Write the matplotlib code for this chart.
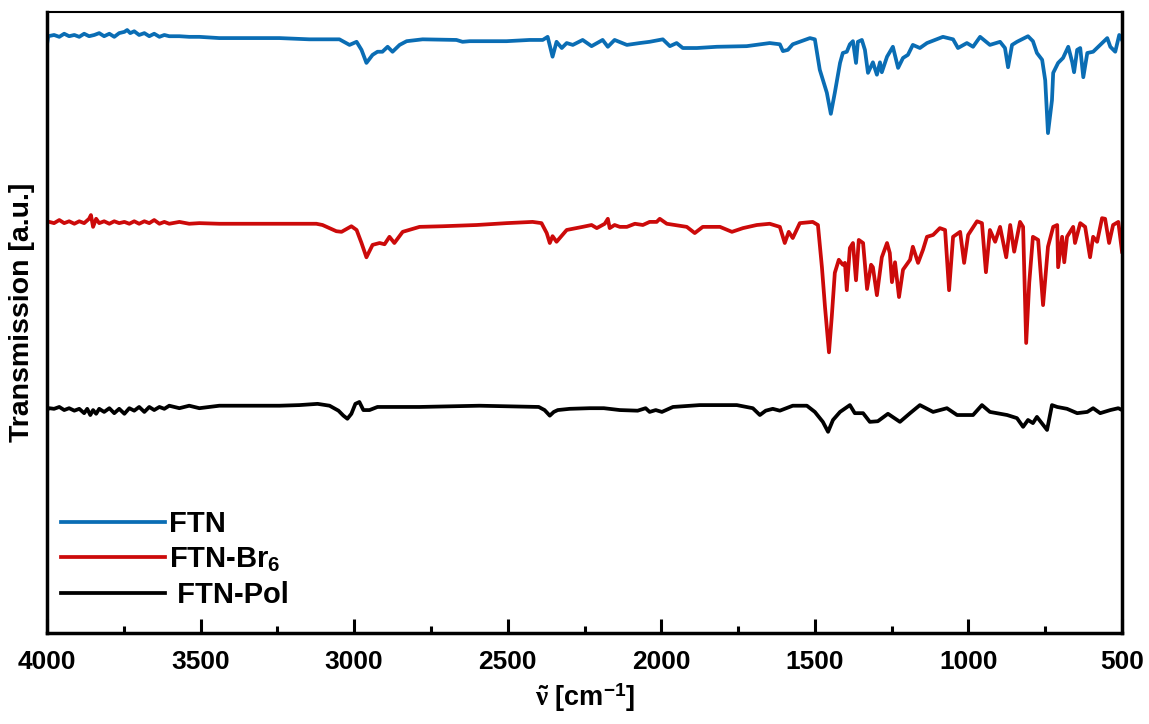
import matplotlib
matplotlib.use('Agg')
import matplotlib.pyplot as plt
from matplotlib.ticker import MultipleLocator, NullLocator

plt.rcParams['font.family'] = ['Liberation Sans', 'DejaVu Sans']
plt.rcParams['font.weight'] = 'bold'
plt.rcParams['mathtext.fontset'] = 'custom'
plt.rcParams['mathtext.rm'] = 'Liberation Sans:bold'
plt.rcParams['mathtext.bf'] = 'Liberation Sans:bold'
plt.rcParams['mathtext.it'] = 'Liberation Serif'

# ---- data (transmission in a.u., traces already offset) ----
ftn_wn = [4000, 3996, 3977, 3960, 3944, 3928, 3911, 3895, 3879, 3863,
          3846, 3830, 3814, 3797, 3781, 3765, 3748, 3739, 3729, 3716,
          3700, 3683, 3667, 3651, 3634, 3618, 3602, 3569, 3537, 3504,
          3439, 3341, 3243, 3146, 3048, 3015, 2992, 2976, 2960, 2940,
          2924, 2908, 2891, 2875, 2852, 2829, 2777, 2667, 2647, 2624,
          2504, 2429, 2386, 2370, 2354, 2341, 2324, 2308, 2288, 2256,
          2227, 2191, 2174, 2152, 2112, 2070, 2038, 1995, 1972, 1950,
          1930, 1884, 1819, 1722, 1647, 1614, 1604, 1588, 1572, 1516,
          1500, 1484, 1461, 1448, 1435, 1418, 1409, 1396, 1386, 1376,
          1366, 1360, 1347, 1337, 1327, 1311, 1298, 1288, 1282, 1265,
          1246, 1229, 1213, 1197, 1181, 1158, 1135, 1083, 1050, 1034,
          1005, 985, 962, 930, 897, 881, 871, 858, 842, 806,
          790, 777, 760, 750, 741, 728, 724, 708, 692, 675,
          662, 656, 646, 636, 626, 613, 594, 571, 548, 538,
          522, 509, 500]
ftn_t = [94.8, 96.1, 96.3, 96.0, 96.5, 96.1, 96.3, 96.0, 96.5, 96.1,
         96.3, 96.6, 96.1, 96.5, 96.0, 96.6, 96.8, 97.1, 96.6, 96.9,
         96.3, 96.6, 96.1, 96.5, 96.0, 96.3, 96.1, 96.1, 96.0, 96.0,
         95.8, 95.8, 95.8, 95.6, 95.6, 94.7, 95.2, 93.9, 91.8, 93.1,
         93.6, 93.6, 94.4, 93.6, 94.7, 95.3, 95.6, 95.5, 95.2, 95.3,
         95.3, 95.5, 95.5, 96.0, 92.8, 95.2, 94.2, 95.0, 94.7, 95.5,
         94.5, 95.5, 94.4, 95.5, 94.7, 95.0, 95.2, 95.6, 94.5, 95.0,
         94.2, 94.2, 94.4, 94.5, 95.0, 94.8, 93.7, 93.9, 94.8, 95.8,
         95.6, 90.7, 87.0, 83.6, 87.0, 91.8, 93.4, 93.6, 94.8, 95.3,
         91.8, 95.2, 95.5, 93.9, 90.2, 91.9, 89.9, 91.9, 90.3, 92.8,
         94.4, 91.0, 92.6, 93.1, 94.7, 94.2, 95.0, 96.0, 95.6, 94.2,
         95.0, 94.4, 96.0, 94.7, 95.2, 94.2, 91.1, 94.7, 95.2, 96.1,
         95.3, 93.4, 92.3, 89.0, 80.5, 85.8, 90.2, 91.8, 92.6, 94.4,
         91.9, 90.3, 93.9, 94.2, 89.5, 93.4, 93.6, 94.7, 95.8, 94.4,
         93.6, 96.3, 95.5]

br6_wn = [4000, 3977, 3960, 3944, 3928, 3911, 3895, 3879, 3863, 3857,
          3850, 3840, 3830, 3814, 3797, 3781, 3765, 3748, 3732, 3716,
          3700, 3683, 3667, 3651, 3634, 3618, 3602, 3569, 3537, 3504,
          3439, 3341, 3243, 3123, 3103, 3058, 3041, 3009, 2992, 2976,
          2960, 2940, 2917, 2901, 2885, 2869, 2842, 2787, 2712, 2601,
          2504, 2419, 2390, 2373, 2363, 2354, 2341, 2308, 2256, 2227,
          2210, 2184, 2174, 2168, 2152, 2135, 2112, 2086, 2060, 2038,
          2015, 2005, 1982, 1917, 1891, 1865, 1809, 1770, 1734, 1689,
          1647, 1614, 1598, 1585, 1572, 1549, 1507, 1490, 1477, 1467,
          1454, 1445, 1435, 1422, 1409, 1402, 1396, 1386, 1376, 1366,
          1357, 1343, 1330, 1317, 1311, 1298, 1282, 1265, 1256, 1249,
          1239, 1226, 1213, 1190, 1181, 1164, 1148, 1135, 1115, 1093,
          1076, 1063, 1050, 1027, 1014, 1001, 972, 956, 943, 930,
          913, 897, 877, 864, 851, 832, 822, 812, 802, 790,
          773, 757, 741, 724, 711, 708, 695, 688, 679, 659,
          653, 636, 620, 604, 594, 581, 565, 555, 542, 529,
          512, 500]
br6_t = [66.3, 66.0, 66.5, 66.0, 66.3, 65.9, 66.3, 66.0, 66.7, 67.3,
         65.4, 66.7, 66.0, 66.3, 65.9, 66.3, 66.0, 66.2, 65.9, 66.3,
         65.9, 66.3, 66.0, 66.5, 65.9, 66.2, 65.9, 66.2, 65.9, 66.0,
         65.9, 65.9, 65.9, 65.9, 65.7, 64.7, 64.6, 65.5, 64.9, 62.8,
         60.5, 62.5, 62.8, 62.6, 63.8, 62.8, 64.6, 65.4, 65.5, 65.7,
         66.0, 66.2, 66.0, 64.4, 62.8, 63.9, 63.0, 64.9, 65.4, 65.7,
         65.2, 65.9, 66.7, 65.2, 65.7, 65.4, 65.4, 65.9, 65.7, 66.2,
         66.2, 66.7, 65.9, 65.4, 64.4, 65.4, 65.4, 64.6, 65.2, 65.7,
         65.9, 65.4, 62.8, 64.6, 63.6, 66.0, 66.2, 65.7, 58.9, 52.5,
         45.2, 50.9, 58.0, 60.1, 59.3, 59.6, 55.2, 62.0, 62.8, 56.8,
         63.3, 62.8, 55.4, 59.3, 58.9, 54.4, 60.5, 62.8, 61.2, 56.5,
         59.7, 54.1, 58.5, 60.1, 62.2, 59.6, 61.7, 63.8, 64.1, 65.2,
         64.9, 55.2, 63.8, 64.6, 59.6, 64.1, 66.3, 66.0, 58.1, 64.9,
         63.0, 65.4, 60.5, 65.7, 61.4, 66.2, 65.4, 46.7, 56.4, 63.8,
         63.3, 52.8, 62.2, 65.4, 65.7, 58.9, 63.8, 59.7, 63.8, 65.4,
         62.8, 66.0, 65.4, 60.5, 63.8, 63.0, 66.8, 66.7, 62.8, 65.7,
         66.2, 61.4]

pol_wn = [4000, 3993, 3977, 3960, 3944, 3928, 3911, 3895, 3879, 3869,
          3859, 3850, 3840, 3830, 3814, 3797, 3781, 3765, 3748, 3732,
          3716, 3700, 3683, 3667, 3651, 3634, 3618, 3602, 3569, 3537,
          3504, 3439, 3341, 3243, 3178, 3119, 3080, 3051, 3035, 3022,
          3009, 2996, 2983, 2970, 2950, 2924, 2895, 2787, 2592, 2399,
          2380, 2363, 2350, 2337, 2298, 2233, 2187, 2135, 2077, 2051,
          2038, 2018, 1998, 1962, 1875, 1754, 1702, 1679, 1660, 1637,
          1614, 1572, 1526, 1500, 1474, 1457, 1441, 1418, 1386, 1370,
          1343, 1321, 1295, 1262, 1223, 1190, 1158, 1115, 1070, 1037,
          985, 956, 930, 874, 842, 822, 806, 790, 777, 744,
          728, 711, 679, 646, 613, 594, 571, 538, 512, 500]
pol_t = [35.9, 36.2, 36.1, 36.4, 35.9, 36.2, 35.8, 36.1, 35.4, 36.1,
         35.1, 35.9, 35.3, 36.1, 35.6, 36.2, 35.4, 36.1, 35.3, 36.2,
         35.8, 36.4, 35.6, 36.4, 35.9, 36.4, 36.1, 36.6, 36.2, 36.6,
         36.2, 36.6, 36.6, 36.6, 36.7, 36.9, 36.6, 35.8, 35.0, 34.5,
         35.3, 36.9, 37.2, 35.9, 35.9, 36.4, 36.4, 36.4, 36.6, 36.4,
         35.9, 35.0, 35.6, 35.9, 36.1, 36.2, 36.2, 35.9, 35.8, 36.2,
         35.6, 35.9, 35.6, 36.4, 36.7, 36.7, 36.2, 35.1, 35.8, 36.1,
         35.8, 36.6, 36.6, 35.6, 34.0, 32.4, 34.3, 35.6, 36.7, 35.4,
         35.4, 34.0, 34.1, 35.3, 34.0, 35.4, 36.7, 35.6, 36.2, 35.1,
         35.1, 36.7, 35.6, 35.1, 34.6, 33.2, 34.3, 33.8, 34.8, 32.7,
         36.7, 36.4, 36.1, 35.4, 35.6, 36.2, 35.4, 35.9, 36.2, 35.9]

labels = ['FTN', 'FTN-Br$_6$', ' FTN-Pol']
colors = ['#0a6db4', '#cc0a0a', '#000000']

fig = plt.figure(figsize=(11.49, 7.24), dpi=100)
ax = fig.add_axes([47 / 1149, 91 / 724, 1075 / 1149, 621 / 724])

series = [(ftn_wn, ftn_t), (br6_wn, br6_t), (pol_wn, pol_t)]
for (wn, t), lab, col in zip(series, labels, colors):
    ax.plot(wn, t, color=col, linewidth=2.7, label=lab, solid_joinstyle='round')

ax.set_xlim(4000, 500)
ax.set_ylim(0, 100)
ax.xaxis.set_major_locator(MultipleLocator(500))
ax.xaxis.set_minor_locator(MultipleLocator(250))
ax.yaxis.set_major_locator(NullLocator())
ax.tick_params(axis='x', which='major', direction='in', length=10, width=2.2,
               labelsize=19, pad=12)
ax.tick_params(axis='x', which='minor', direction='in', length=5, width=2.2)
for lab in ax.get_xticklabels():
    lab.set_fontweight('bold')

for side in ['left', 'right', 'bottom']:
    ax.spines[side].set_linewidth(2.5)
ax.spines['top'].set_linewidth(1.5)

ax.set_xlabel(r'$\tilde{\nu}$ [cm$^{-1}$]', fontsize=19.5, fontweight='bold', labelpad=6)
ax.set_ylabel('Transmission [a.u.]', fontsize=20.5, fontweight='bold')
ax.yaxis.set_label_coords(-0.011, 0.517)

ax.legend(loc='upper left', bbox_to_anchor=(0.013, 0.198), frameon=False,
          handlelength=3.55, handletextpad=0.15, labelspacing=0.25,
          borderpad=0, borderaxespad=0, prop={'weight': 'bold', 'size': 21})

fig.savefig('out.png', dpi=100)
